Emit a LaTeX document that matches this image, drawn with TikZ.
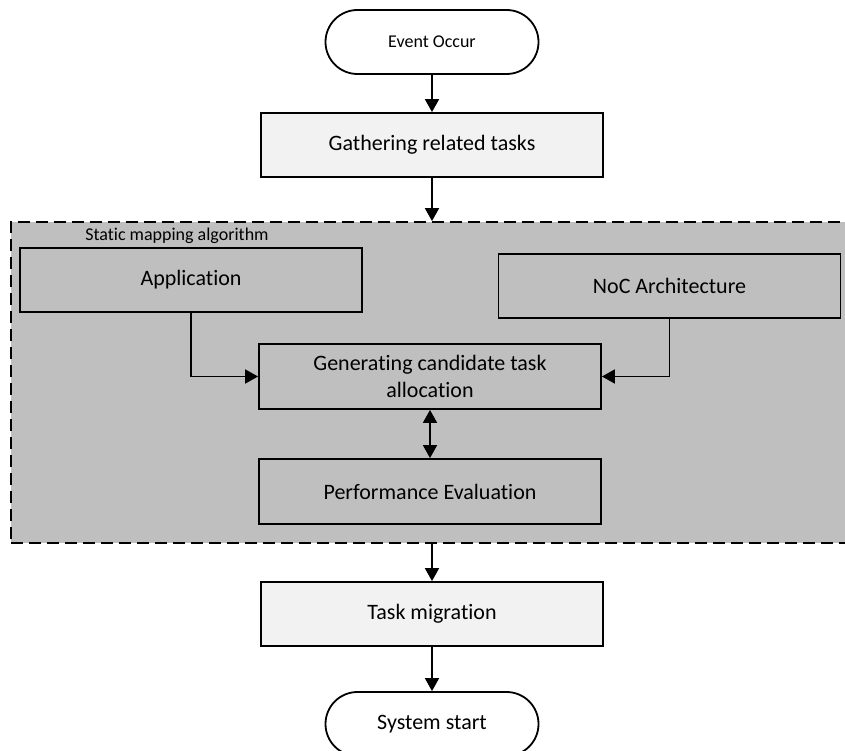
\documentclass[tikz,border=0pt]{standalone}
\usepackage{fontspec}
\setmainfont{Carlito}[Ligatures=CommonOff]
\usetikzlibrary{positioning,arrows.meta}
\definecolor{boxgray}{HTML}{F2F2F2}
\definecolor{regiongray}{HTML}{BFBFBF}

\begin{document}
\begin{tikzpicture}[x=1pt,y=-1pt,line width=1.8pt,
  terminal/.style={draw,fill=white,rounded corners=32pt,minimum width=213pt,minimum height=64pt},
  process/.style={draw,fill=boxgray,minimum width=342pt,minimum height=64pt,align=center,font=\fontsize{22}{27}\selectfont},
  subprocess/.style={process,fill=none},
  region/.style={draw,fill=regiongray,dash pattern=on 12pt off 6pt,minimum width=839pt,minimum height=321pt},
  flow/.style={-{Triangle[length=13pt,width=14pt]}}]
\clip (0,0) rectangle (845,751);
% outer flow
\node[terminal,font=\fontsize{18}{22}\selectfont] (event) at (432,42) {Event Occur};
\node[process] (gather) at (432,145) {Gathering related tasks};
\node[region] (static) at (430.5,382.5) {};
\node[font=\fontsize{18}{22}\selectfont] (title) at (177,236) {Static mapping algorithm};
% static mapping
\node[subprocess] (app) at (191,280) {Application};
\node[subprocess] (noc) at (669.5,286) {NoC Architecture};
\node[subprocess,minimum height=65pt] (gen) at (430,376.5) {Generating candidate task\\allocation};
\node[subprocess,minimum height=65pt] (perf) at (430,491.5) {Performance Evaluation};
\node[process] (mig) at (432,614) {Task migration};
\node[terminal,font=\fontsize{22}{27}\selectfont] (sys) at (432,724) {System start};
\draw[flow] (event) -- (gather);
\draw[flow] (gather.south) -- (gather.south |- static.north);
\draw[flow] (app.south) |- (gen.west);
\draw[flow] (noc.south) |- (gen.east);
\draw[{Triangle[length=13pt,width=14pt]}-{Triangle[length=13pt,width=14pt]}] (gen) -- (perf);
\draw[flow] (mig.north |- static.south) -- (mig.north);
\draw[flow] (mig) -- (sys);
\end{tikzpicture}
\end{document}
